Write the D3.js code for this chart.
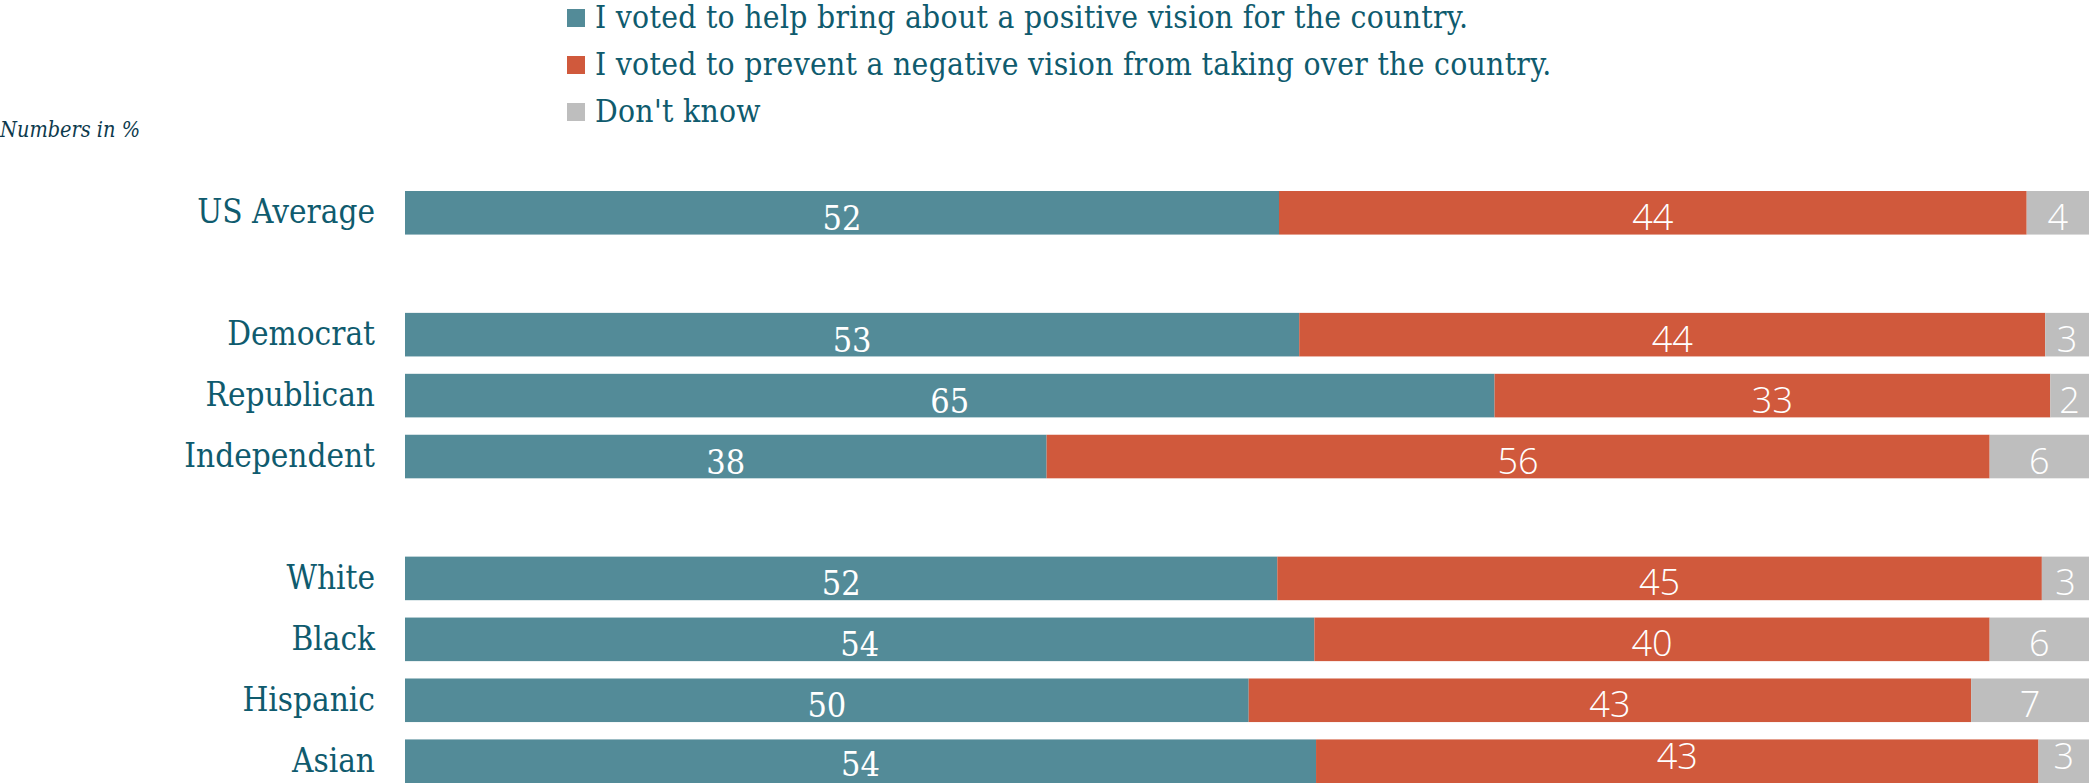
<!DOCTYPE html>
<html>
<head>
<meta charset="utf-8">
<script src="https://cdn.jsdelivr.net/npm/d3@7"></script>
<style>
  html, body { margin: 0; padding: 0; background: #fff; }
  svg { display: block; }
</style>
</head>
<body>
<svg id="chart" width="2089" height="783"></svg>
<script>
// ---- data ----
const categories = ["US Average", "Democrat", "Republican", "Independent", "White", "Black", "Hispanic", "Asian"];
const rowOrder = ["US Average", "gap1", "Democrat", "Republican", "Independent", "gap2", "White", "Black", "Hispanic", "Asian"];
const positiveVision = [51.9, 53.1, 64.7, 38.1, 51.8, 54.0, 50.1, 54.1];
const negativeVision = [44.4, 44.3, 33.0, 56.0, 45.4, 40.1, 42.9, 42.9];
const dontKnow       = [3.7, 2.6, 2.3, 5.9, 2.8, 5.9, 7.0, 3.0];
const seriesNames = [
  "I voted to help bring about a positive vision for the country.",
  "I voted to prevent a negative vision from taking over the country.",
  "Don't know"
];
const seriesKeys = ["pos", "neg", "dk"];
const colors = ["#538b98", "#d0593c", "#bebebe"];
const xTicks = [0, 100];

// ---- build table ----
const table = categories.map((c, i) => ({ cat: c, pos: positiveVision[i], neg: negativeVision[i], dk: dontKnow[i] }));
const stacked = d3.stack().keys(seriesKeys)(table);

const svg = d3.select("#chart");
const textColor = "#0f5b6e";
const serif = "'DejaVu Serif Condensed', 'DejaVu Serif', serif";
const sans = "'Open Sans', 'Lato', sans-serif";

const x = d3.scaleLinear().domain(d3.extent(xTicks)).range([405, 2089]);
const y = d3.scaleBand().domain(rowOrder).range([191, 783]).paddingInner(0.285).paddingOuter(0).align(0);
const color = d3.scaleOrdinal().domain(seriesKeys).range(colors);

// bars
const layers = svg.append("g").selectAll("g").data(stacked).join("g")
  .attr("fill", d => color(d.key));
layers.selectAll("rect").data(d => d).join("rect")
  .attr("x", d => x(d[0]))
  .attr("y", d => y(d.data.cat))
  .attr("width", d => x(d[1]) - x(d[0]))
  .attr("height", y.bandwidth());

// value labels
const fmt = d3.format(".0f");
stacked.forEach((layer, li) => {
  svg.append("g").selectAll("text").data(layer).join("text")
    .attr("x", d => (x(d[0]) + x(d[1])) / 2)
    .attr("y", d => Math.min(y(d.data.cat) + y.bandwidth() / 2 + 17, li === 0 ? 776 : 769))
    .attr("text-anchor", "middle")
    .attr("fill", "#ffffff")
    .style("font-family", li === 0 ? serif : sans)
    .style("font-weight", li === 0 ? 400 : 300)
    .style("font-size", li === 0 ? "34px" : "36px")
    .text(d => fmt(d[1] - d[0]));
});

// category axis labels
const yAxis = d3.axisLeft(y).tickSize(0).tickPadding(0)
  .tickValues(categories);
const ax = svg.append("g").attr("transform", "translate(375,0)").call(yAxis);
ax.select(".domain").remove();
ax.selectAll("text")
  .attr("fill", textColor)
  .attr("dy", "0.32em")
  .style("font-family", serif)
  .style("font-size", "33px");

// subtitle
svg.append("text")
  .attr("x", 0).attr("y", 137)
  .attr("fill", "#0d3a4d")
  .style("font-family", serif)
  .style("font-style", "italic")
  .style("font-size", "21.5px")
  .text("Numbers in %");

// legend
const legend = svg.append("g").selectAll("g").data(seriesNames).join("g")
  .attr("transform", (d, i) => `translate(567, ${9 + i * 47})`);
legend.append("rect")
  .attr("width", 18).attr("height", 18)
  .attr("fill", (d, i) => colors[i]);
legend.append("text")
  .attr("x", 28).attr("y", 19)
  .attr("fill", textColor)
  .style("font-family", serif)
  .style("font-size", "31.5px")
  .style("letter-spacing", "0.3px")
  .text(d => d);
</script>
</body>
</html>
